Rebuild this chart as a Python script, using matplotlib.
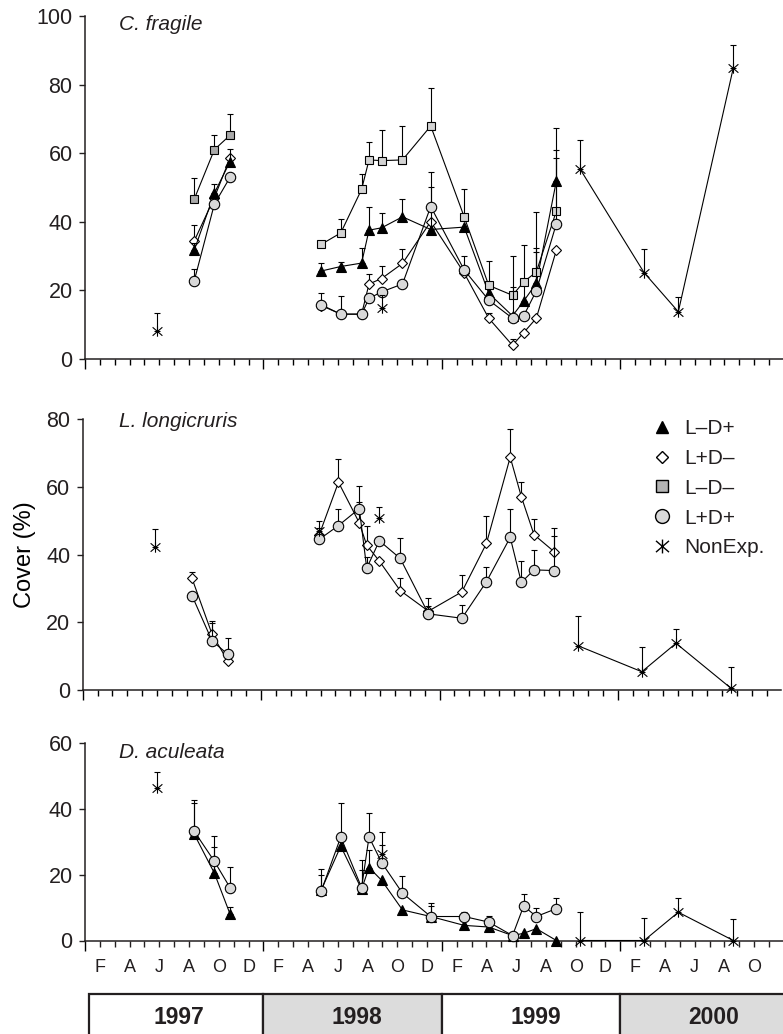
import matplotlib
matplotlib.use('Agg')
import matplotlib.pyplot as plt
import numpy as np
from matplotlib.path import Path
from matplotlib.lines import Line2D
from matplotlib.patches import Rectangle

plt.rcParams['font.family'] = ['Liberation Sans', 'DejaVu Sans']
plt.rcParams['text.color'] = '#231f20'

# ---------------- data (x = months since 1 Jan 1997) ----------------
dates_97 = [7.35, 8.7, 9.75]
dates_98 = [15.9, 17.2, 18.6, 19.1, 19.95, 21.35, 23.25, 25.5, 27.15, 28.75, 29.5, 30.35, 31.7]
dates_nx_late = [33.3, 37.6, 39.9, 43.6]

# C. fragile
cf_tri97 = [31.7, 48.3, 57.5];  cf_tri97_se = [2.0, 2.6, 3.7]
cf_dia97 = [34.4, 47.0, 58.5];  cf_dia97_se = [4.6, 0, 0]
cf_sq97 = [46.6, 61.0, 65.2];   cf_sq97_se = [6.2, 4.4, 6.1]
cf_cir97 = [22.8, 45.1, 52.9];  cf_cir97_se = [3.5, 0, 0]
cf_tri = [25.6, 26.9, 27.9, 37.5, 38.2, 41.4, 37.7, 38.4, 19.1, 12.5, 16.8, 22.0, 51.9]
cf_tri_se = [2.4, 1.4, 4.5, 6.9, 4.4, 5.3, 12.5, 0, 0, 0, 5.0, 10.2, 15.5]
cf_dia = [15.5, 13.0, 13.0, 21.8, 23.4, 27.8, 40.0, 25.0, 11.8, 3.9, 7.6, 11.8, 31.7]
cf_dia_se = [0, 0, 0, 2.9, 3.7, 4.1, 0, 0, 1.4, 1.8, 0, 0, 0]
cf_sq = [33.4, 36.7, 49.4, 58.0, 57.8, 58.0, 67.9, 41.4, 21.4, 18.5, 22.4, 25.3, 43.1]
cf_sq_se = [0, 4.2, 4.5, 5.2, 8.9, 10.0, 11.2, 8.2, 7.1, 11.5, 10.9, 17.4, 17.9]
cf_cir = [15.7, 13.0, 13.0, 17.6, 19.5, 21.8, 44.4, 25.9, 17.1, 11.8, 12.5, 19.8, 39.4]
cf_cir_se = [3.6, 5.2, 1.5, 0, 0, 0, 10.2, 4.1, 0, 9.0, 0, 11.4, 19.1]
cf_nx_dates = [4.86, 19.95]
cf_nx = [8.1, 14.7];             cf_nx_se = [5.1, 4.0]
cf_nx_late = [55.3, 25.1, 13.7, 84.9]; cf_nx_late_se = [8.4, 6.8, 4.4, 6.6]

# L. longicruris
ll_dia97 = [33.0, 16.5, 8.6];   ll_dia97_se = [2.0, 3.9, 0]
ll_cir97 = [27.9, 14.5, 10.6];  ll_cir97_se = [0, 5.2, 4.9]
ll_dia = [45.8, 61.4, 49.4, 42.8, 38.1, 29.4, 23.3, 29.0, 43.3, 68.8, 57.1, 45.9, 40.9]
ll_dia_se = [2.2, 6.8, 6.2, 5.8, 0, 3.6, 4.0, 4.9, 8.0, 8.4, 4.5, 4.6, 6.9]
ll_cir = [44.5, 48.6, 53.6, 36.0, 44.1, 38.9, 22.5, 21.2, 32.0, 45.1, 31.8, 35.5, 35.3]
ll_cir_se = [0, 4.8, 6.7, 3.4, 0, 6.1, 2.4, 3.8, 4.4, 8.5, 6.4, 5.8, 10.2]
ll_nx_dates = [4.86, 15.9, 19.95]
ll_nx = [42.3, 47.0, 50.8];      ll_nx_se = [5.2, 2.9, 3.2]
ll_nx_late = [13.1, 5.4, 13.8, 0.5]; ll_nx_late_se = [8.9, 7.2, 4.3, 6.4]

# D. aculeata
da_tri97 = [32.3, 20.5, 8.1];   da_tri97_se = [9.4, 8.0, 2.1]
da_cir97 = [33.2, 24.1, 16.1];  da_cir97_se = [9.7, 7.6, 6.2]
da_tri = [15.5, 28.7, 15.6, 22.2, 18.3, 9.3, 7.3, 4.6, 4.1, 1.5, 2.2, 3.6, 0.0]
da_tri_se = [4.3, 0, 5.7, 5.2, 0, 0, 3.3, 0, 0, 0, 0, 0, 0]
da_cir = [15.2, 31.5, 16.1, 31.5, 23.7, 14.4, 7.3, 7.3, 5.6, 1.5, 10.5, 7.3, 9.7]
da_cir_se = [6.6, 10.4, 8.3, 7.3, 9.4, 5.3, 4.1, 1.3, 2.0, 0, 3.7, 2.5, 3.3]
da_nx_dates = [4.86, 19.95]
da_nx = [46.3, 26.4];            da_nx_se = [5.0, 2.7]
da_nx_late = [0.0, 0.0, 8.6, 0.0]; da_nx_late_se = [8.6, 6.9, 4.3, 6.5]

species = ['C. fragile', 'L. longicruris', 'D. aculeata']
y_max = [100, 80, 60]
years = ['1997', '1998', '1999', '2000']
month_letters = ['J', 'F', 'M', 'A', 'M', 'J', 'J', 'A', 'S', 'O', 'N', 'D']
legend_labels = ['L\u2013D+', 'L+D\u2013', 'L\u2013D\u2013', 'L+D+', 'NonExp.']

# ---------------- styles ----------------
W, H = 783, 1034
ast = Path([(0, 0.8), (0, -0.8), (-0.75, 0.65), (0.75, -0.65), (-0.75, -0.65), (0.75, 0.65)],
           [Path.MOVETO, Path.LINETO, Path.MOVETO, Path.LINETO, Path.MOVETO, Path.LINETO])
STY = {
    'tri': dict(marker='^', ms=6.5, mfc='black', z=4),
    'dia': dict(marker='D', ms=4.8, mfc='white', z=3),
    'sq': dict(marker='s', ms=6.2, mfc='#d3d3d3', z=5),
    'sq97': dict(marker='s', ms=6.2, mfc='#a9a9a9', z=5),
    'cir': dict(marker='o', ms=7.5, mfc='#d9d9d9', z=6),
    'nx': dict(marker=ast, ms=7.5, mfc='none', z=7),
}
LW = 0.8


def series(ax, x, y, se, key, connect=True):
    s = STY[key]
    x = np.asarray(x, float); y = np.asarray(y, float); e = np.asarray(se, float)
    m = e > 0
    if m.any():
        ax.errorbar(x[m], y[m], yerr=[np.zeros(m.sum()), e[m]], fmt='none',
                    ecolor='black', elinewidth=LW, capsize=2.2, capthick=LW,
                    zorder=s['z'] - 0.5, clip_on=False)
    ax.plot(x, y, ls='-' if connect else 'none', color='black', lw=LW,
            marker=s['marker'], ms=s['ms'], mfc=s['mfc'], mec='black', mew=0.8,
            zorder=s['z'], clip_on=False)


fig = plt.figure(figsize=(W / 100, H / 100), dpi=100)
xw = 46.95
axw = xw * 14.87 / W
rects = [
    [85 / W, (H - 358.7) / H, axw, 342.7 / H],
    [82.7 / W, (H - 690) / H, axw, 270.7 / H],
    [85 / W, (H - 940.5) / H, axw, 197.2 / H],
]
axes = [fig.add_axes(r) for r in rects]

for i, ax in enumerate(axes):
    ax.set_xlim(0, xw)
    ax.set_ylim(0, y_max[i])
    for sp in ['top', 'right']:
        ax.spines[sp].set_visible(False)
    for sp in ['left', 'bottom']:
        ax.spines[sp].set_linewidth(1.1)
        ax.spines[sp].set_color('#231f20')
    ax.set_yticks(range(0, y_max[i] + 1, 20))
    ax.tick_params(axis='y', direction='out', length=4, width=1.0, pad=5,
                   labelsize=15.5, colors='#231f20')
    ax.set_xticks([0, 12, 24, 36])
    ax.set_xticks(np.arange(0, 47), minor=True)
    ax.tick_params(axis='x', which='major', direction='out', length=7, width=1.0)
    ax.tick_params(axis='x', which='minor', direction='out', length=4, width=1.0)
    ax.set_xticklabels([])
    fig.text(119 / W, [1 - 25 / H, 1 - 421.7 / H, 1 - 752.7 / H][i], species[i],
             style='italic', fontsize=15, ha='left', va='center')

# month labels on bottom axis
ax3 = axes[2]
mt = np.arange(0, 47)
ax3.set_xticklabels([month_letters[m % 12] if m % 2 == 1 else '' for m in mt], minor=True)
ax3.tick_params(axis='x', which='minor', labelsize=13, pad=9, colors='#231f20')

# ---- C. fragile
ax = axes[0]
series(ax, dates_97, cf_dia97, cf_dia97_se, 'dia')
series(ax, dates_97, cf_tri97, cf_tri97_se, 'tri')
series(ax, dates_97, cf_sq97, cf_sq97_se, 'sq97')
series(ax, dates_97, cf_cir97, cf_cir97_se, 'cir')
series(ax, dates_98, cf_dia, cf_dia_se, 'dia')
series(ax, dates_98, cf_tri, cf_tri_se, 'tri')
series(ax, dates_98, cf_sq, cf_sq_se, 'sq')
series(ax, dates_98, cf_cir, cf_cir_se, 'cir')
series(ax, cf_nx_dates, cf_nx, cf_nx_se, 'nx', connect=False)
series(ax, dates_nx_late, cf_nx_late, cf_nx_late_se, 'nx')

# ---- L. longicruris
ax = axes[1]
series(ax, dates_97, ll_dia97, ll_dia97_se, 'dia')
series(ax, dates_97, ll_cir97, ll_cir97_se, 'cir')
series(ax, dates_98, ll_dia, ll_dia_se, 'dia')
series(ax, dates_98, ll_cir, ll_cir_se, 'cir')
series(ax, ll_nx_dates, ll_nx, ll_nx_se, 'nx', connect=False)
series(ax, dates_nx_late, ll_nx_late, ll_nx_late_se, 'nx')
ax.set_ylabel('Cover (%)', fontsize=17, labelpad=7)

# ---- D. aculeata
ax = axes[2]
series(ax, dates_97, da_tri97, da_tri97_se, 'tri')
series(ax, dates_97, da_cir97, da_cir97_se, 'cir')
series(ax, dates_98, da_tri, da_tri_se, 'tri')
series(ax, dates_98, da_cir, da_cir_se, 'cir')
series(ax, da_nx_dates, da_nx, da_nx_se, 'nx', connect=False)
series(ax, dates_nx_late, da_nx_late, da_nx_late_se, 'nx')

# ---- legend
handles = [
    Line2D([], [], ls='none', marker='^', ms=8, mfc='black', mec='black'),
    Line2D([], [], ls='none', marker='D', ms=6.5, mfc='white', mec='black'),
    Line2D([], [], ls='none', marker='s', ms=8, mfc='#b3b3b3', mec='black'),
    Line2D([], [], ls='none', marker='o', ms=10, mfc='#d9d9d9', mec='black'),
    Line2D([], [], ls='none', marker=ast, ms=10, mfc='none', mec='black', mew=1.0),
]
fig.legend(handles, legend_labels, loc='upper left',
           bbox_to_anchor=(652 / W, 1 - 419 / H), frameon=False, fontsize=15,
           handlelength=1.0, handletextpad=0.55, labelspacing=0.52, borderpad=0,
           borderaxespad=0)

# ---- year table
axt = fig.add_axes([85 / W, -10 / H, axw, (1034 - 994 + 10) / H])
axt.set_xlim(0, xw)
axt.set_ylim(0, 1)
axt.axis('off')
for i, yr in enumerate(years):
    x0 = max(12 * i, 0.29)
    x1 = 12 * (i + 1)
    fc = '#dcdcdc' if i % 2 == 1 else 'white'
    axt.add_patch(Rectangle((x0, 0), x1 - x0, 1, facecolor=fc, edgecolor='#231f20',
                            lw=1.6, clip_on=False))
    axt.text((12 * i + 12 * (i + 1)) / 2 + 0.3, 0.52, yr, ha='center', va='center',
             fontsize=16.5, fontweight='bold')

fig.savefig('out.png', dpi=100)
